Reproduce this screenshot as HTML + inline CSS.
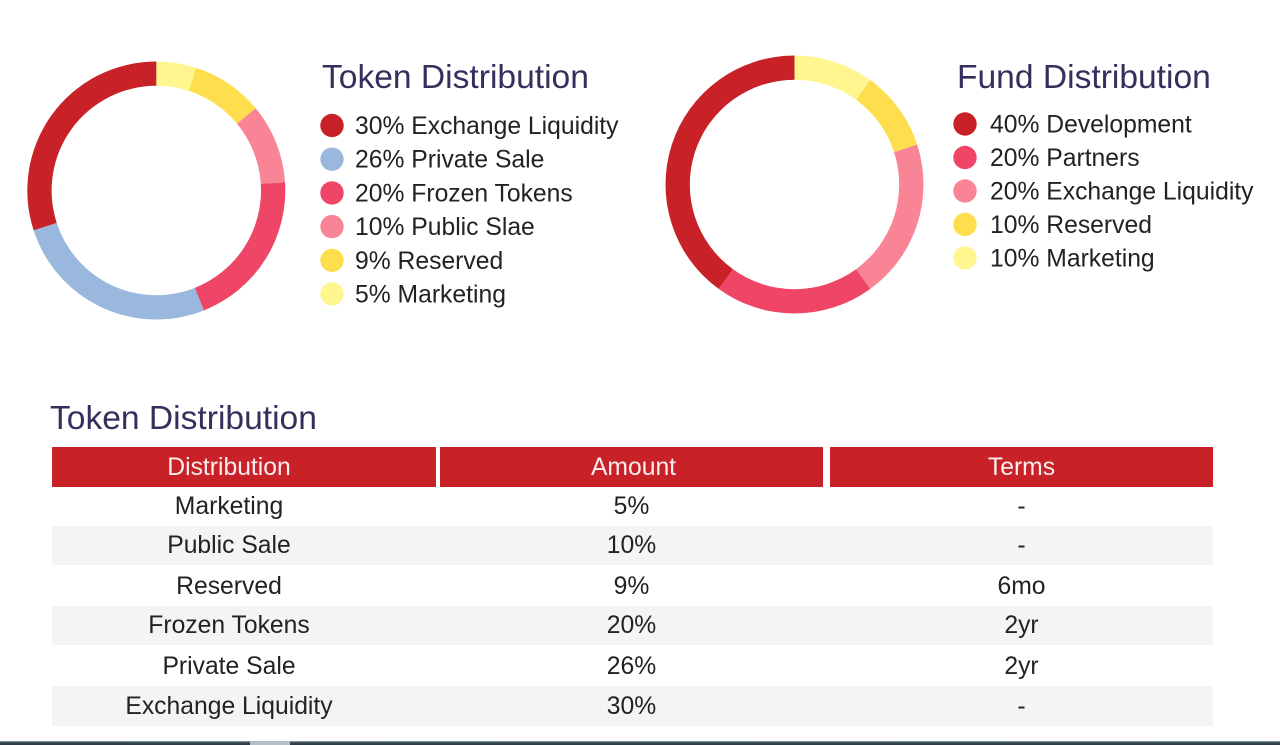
<!DOCTYPE html>
<html lang="en">
<head>
<meta charset="utf-8">
<title>Token and Fund Distribution</title>
<style>
  html, body { margin: 0; padding: 0; background: #fff; }
  #page { position: relative; width: 1280px; height: 745px; overflow: hidden; background: #fff;
    font-family: "Liberation Sans", sans-serif; color: #222; filter: blur(0.35px); }
  #charts { position: absolute; left: 0; top: 0; }
  .heading { position: absolute; font-size: 33.6px; line-height: 38px; color: #352f5c; white-space: nowrap; margin: 0; font-weight: normal; }
  .band { position: absolute; left: 52px; width: 1161px; background: #f4f4f4; }
  .cell { position: absolute; text-align: center; font-size: 24.7px; line-height: 40px; height: 40px; white-space: nowrap; }
  .head { position: absolute; top: 447px; height: 40px; line-height: 41px; background: #c82127; color: #fbeeee;
    text-align: center; font-size: 24.7px; }
  .c1 { left: 52px; width: 384px; text-indent: -30px; }
  .c2 { left: 440px; width: 383px; text-indent: 4px; }
  .c3 { left: 830px; width: 383px; }
  .b1 { left: 52px; width: 354px; }
  .b2 { left: 440px; width: 383px; }
  .b3 { left: 830px; width: 383px; }
  #bottom-strip { position: absolute; left: 0; top: 741px; width: 1280px; height: 4px;
    background: linear-gradient(#9fb3bd 0, #35474f 40%, #2b3a42 100%); }
  #strip-handle { position: absolute; left: 250px; top: 741px; width: 40px; height: 4px; background: #b4c0c6; }
</style>
</head>
<body>
<div id="page">
  <svg id="charts" width="1280" height="400" viewBox="0 0 1280 400" xmlns="http://www.w3.org/2000/svg"></svg>

  <h2 class="heading" style="left:50px;top:400px">Token Distribution</h2>

  <div class="head c1">Distribution</div>
  <div class="head c2">Amount</div>
  <div class="head c3">Terms</div>

  <div class="band" style="top:526px;height:39px"></div>
  <div class="band" style="top:606px;height:39px"></div>
  <div class="band" style="top:686px;height:40px"></div>

  <div class="cell b1" style="top:487px">Marketing</div>
  <div class="cell b2" style="top:487px">5%</div>
  <div class="cell b3" style="top:487px">-</div>

  <div class="cell b1" style="top:526px">Public Sale</div>
  <div class="cell b2" style="top:526px">10%</div>
  <div class="cell b3" style="top:526px">-</div>

  <div class="cell b1" style="top:567px">Reserved</div>
  <div class="cell b2" style="top:567px">9%</div>
  <div class="cell b3" style="top:567px">6mo</div>

  <div class="cell b1" style="top:606px">Frozen Tokens</div>
  <div class="cell b2" style="top:606px">20%</div>
  <div class="cell b3" style="top:606px">2yr</div>

  <div class="cell b1" style="top:647px">Private Sale</div>
  <div class="cell b2" style="top:647px">26%</div>
  <div class="cell b3" style="top:647px">2yr</div>

  <div class="cell b1" style="top:687px">Exchange Liquidity</div>
  <div class="cell b2" style="top:687px">30%</div>
  <div class="cell b3" style="top:687px">-</div>

  <div id="bottom-strip"></div>
  <div id="strip-handle"></div>
</div>

<script>
const tokenLabels = ["Exchange Liquidity", "Private Sale", "Frozen Tokens", "Public Slae", "Reserved", "Marketing"];
const tokenValues = [30, 26, 20, 10, 9, 5];
const tokenColors = ["#c82127", "#9ab8de", "#ef4566", "#f98496", "#ffde4d", "#fff68f"];
const fundLabels = ["Development", "Partners", "Exchange Liquidity", "Reserved", "Marketing"];
const fundValues = [40, 20, 20, 10, 10];
const fundColors = ["#c82127", "#ef4566", "#f98496", "#ffde4d", "#fff68f"];

const NS = "http://www.w3.org/2000/svg";
const svg = document.getElementById("charts");

function polar(cx, cy, r, pct) {
  const a = pct / 100 * 2 * Math.PI;
  return [cx + r * Math.sin(a), cy - r * Math.cos(a)];
}

function slug(s) {
  return s.toLowerCase().replace(/[^a-z0-9]+/g, "-");
}

function drawChart(cfg, labels, values, colors) {
  const total = values.reduce(function (a, b) { return a + b; }, 0);
  let acc = 0;
  // Slices run clockwise from 12 o'clock in reverse legend order.
  for (let i = values.length - 1; i >= 0; i--) {
    const start = acc / total * 100;
    acc += values[i];
    const end = acc / total * 100;
    const p0 = polar(cfg.cx, cfg.cy, cfg.rOuter, start);
    const p1 = polar(cfg.cx, cfg.cy, cfg.rOuter, end);
    const p2 = polar(cfg.cx, cfg.cy, cfg.rInner, end);
    const p3 = polar(cfg.cx, cfg.cy, cfg.rInner, start);
    const large = end - start > 50 ? 1 : 0;
    const path = document.createElementNS(NS, "path");
    path.setAttribute("d",
      "M" + p0[0] + " " + p0[1] +
      "A" + cfg.rOuter + " " + cfg.rOuter + " 0 " + large + " 1 " + p1[0] + " " + p1[1] +
      "L" + p2[0] + " " + p2[1] +
      "A" + cfg.rInner + " " + cfg.rInner + " 0 " + large + " 0 " + p3[0] + " " + p3[1] + "Z");
    path.setAttribute("fill", colors[i]);
    
    
    svg.appendChild(path);
  }

  const title = document.createElementNS(NS, "text");
  title.setAttribute("x", cfg.titleX);
  title.setAttribute("y", cfg.titleY);
  title.setAttribute("font-size", "33.6");
  title.setAttribute("fill", "#352f5c");
  title.setAttribute("font-family", '"Liberation Sans", sans-serif');
  title.textContent = cfg.title;
  
  
  svg.appendChild(title);

  for (let i = 0; i < values.length; i++) {
    const y = cfg.legendY + i * cfg.legendStep;
    const dot = document.createElementNS(NS, "circle");
    dot.setAttribute("cx", cfg.dotX);
    dot.setAttribute("cy", y);
    dot.setAttribute("r", "11.7");
    dot.setAttribute("fill", colors[i]);
    
    
    svg.appendChild(dot);

    const t = document.createElementNS(NS, "text");
    t.setAttribute("x", cfg.textX);
    t.setAttribute("y", y + 8.5);
    t.setAttribute("font-size", "24.7");
    t.setAttribute("fill", "#222");
    t.setAttribute("font-family", '"Liberation Sans", sans-serif');
    t.textContent = values[i] + "% " + labels[i];
    
    
    svg.appendChild(t);
  }
}

drawChart({ prefix: "token", title: "Token Distribution", cx: 156.3, cy: 190.5, rOuter: 129, rInner: 104.7,
  titleX: 322, titleY: 88, dotX: 332, textX: 355, legendY: 125.5, legendStep: 33.7 },
  tokenLabels, tokenValues, tokenColors);

drawChart({ prefix: "fund", title: "Fund Distribution", cx: 794.5, cy: 184.5, rOuter: 129, rInner: 104.7,
  titleX: 957, titleY: 88, dotX: 965, textX: 990, legendY: 124, legendStep: 33.5 },
  fundLabels, fundValues, fundColors);
</script>
</body>
</html>
